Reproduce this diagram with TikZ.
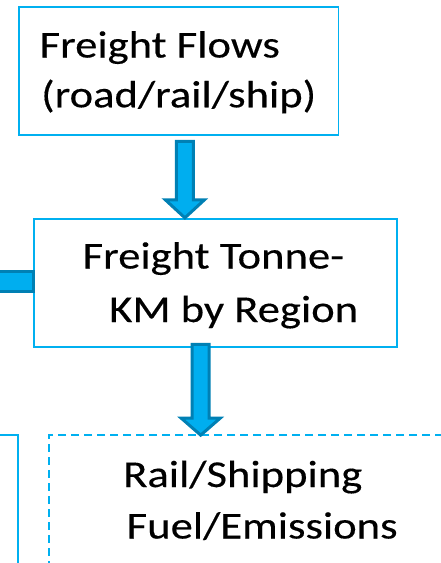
\documentclass[tikz,border=0pt]{standalone}
\usepackage{fontspec}
\newfontfamily\boxfont[FakeStretch=1.175,FakeBold=0.3]{Carlito}
\usetikzlibrary{calc}
\definecolor{boxline}{HTML}{00B0F0}
\definecolor{arrfill}{HTML}{00AEEF}
\definecolor{arrline}{HTML}{0080B4}
\tikzset{
  flowbox/.style={draw=boxline, line width=1.7pt, fill=white, rectangle, inner sep=0pt},
  dashbox/.style={flowbox, dash pattern=on 8pt off 5pt},
  boxtext/.style={anchor=base west, inner sep=0pt, font=\boxfont\fontsize{38pt}{46pt}\selectfont, text=black},
  blockarr/.style={fill=arrfill, draw=arrline, line width=3pt, line join=miter},
}
\begin{document}
\begin{tikzpicture}[x=1pt,y=-1pt]
\useasboundingbox (0,0) rectangle (440,563);
% boxes
\node[flowbox, minimum width=319.2pt, minimum height=128.5pt] (b1) at (178.9,70.95) {};
\node[flowbox, minimum width=363pt, minimum height=128pt] (b2) at (215.2,282.7) {};
\node[flowbox, minimum width=200pt, minimum height=200pt] (b3) at (-81.7,535) {};
\node[dashbox, minimum width=500pt, minimum height=200pt] (b4) at (299,535) {};
% texts
\node[boxtext] (t1a) at (39.5,57.5) {Freight Flows};
\node[boxtext] (t1b) at (41,107.3) {(road/rail/ship)};
\node[boxtext] (t2a) at (82.5,268.5) {Freight Tonne-};
\node[boxtext] (t2b) at (109,322) {KM by Region};
\node[boxtext] (t4a) at (123,487) {Rail/Shipping};
\node[boxtext] (t4b) at (126.5,538.5) {Fuel/Emissions};
% arrows
\draw[blockarr] let \p1=($(b1.south)+(6,5.3)$), \p2=(b2.north) in
  (\x1-8.5pt,\y1) -- (\x1+8.5pt,\y1) -- (\x1+8.5pt,\y2+18pt) -- (\x1+19.5pt,\y2+18pt)
  -- (\x1,\y2) -- (\x1-19.5pt,\y2+18pt) -- (\x1-8.5pt,\y2+18pt) -- cycle;
\draw[blockarr] let \p1=($(b2.south)+(-14.5,-3.2)$), \p2=($(b4.north west)+(0,1)$) in
  (\x1-8.5pt,\y1) -- (\x1+8.5pt,\y1) -- (\x1+8.5pt,\y2+17pt) -- (\x1+19.5pt,\y2+17pt)
  -- (\x1,\y2) -- (\x1-19.5pt,\y2+17pt) -- (\x1-8.5pt,\y2+17pt) -- cycle;
\coordinate (lsrc) at (-20,281.5);
\draw[blockarr] let \p1=(lsrc), \p2=($(b2.west)+(0.8,0)$) in
  (\x1,\y1-10pt) rectangle (\x2,\y1+10pt);
\end{tikzpicture}
\end{document}
